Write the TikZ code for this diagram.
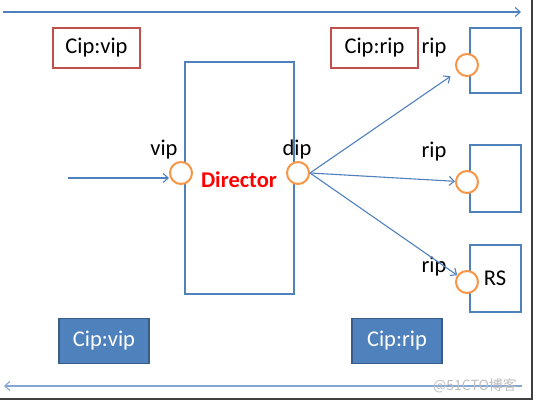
\documentclass[tikz,border=0pt]{standalone}
\usepackage{fontspec}
\setmainfont{Carlito}
\newfontfamily\cjkfont{Noto Sans CJK SC}
\usetikzlibrary{arrows.meta}
\definecolor{lblue}{HTML}{4F81BD}
\definecolor{dblue}{HTML}{385D8A}
\definecolor{lred}{HTML}{C0504D}
\definecolor{lorange}{HTML}{F79646}
\tikzset{
  lbl/.style={font=\fontsize{22.5}{24}\selectfont, inner sep=0pt},
  redbox/.style={draw=lred, line width=2.3pt, minimum height=40pt, font=\fontsize{22.5}{24}\selectfont, inner sep=0pt},
  bluebox/.style={draw=dblue, fill=lblue, line width=1.5pt, minimum height=45pt, minimum width=90pt, text=white, font=\fontsize{22.5}{24}\selectfont, inner sep=0pt},
  framebox/.style={draw=lblue, line width=2.4pt},
  port/.style={circle, draw=lorange, fill=white, line width=2pt, minimum size=22pt, inner sep=0pt},
  conn/.style={draw=lblue, line width=1.1pt, -{Straight Barb[length=5pt,width=9pt]}},
}
\begin{document}
\begin{tikzpicture}[x=1pt,y=-1pt]
\useasboundingbox (0,0) rectangle (536,403);
\fill[white] (0,0) rectangle (536,403);
% page shadow
\draw[black!75, line width=2pt] (532,0) -- (532,399) -- (0,399);
% top and bottom arrows
\coordinate (ts) at (3,12); \coordinate (te) at (521,12);
\draw[conn] (ts) -- (te);
\coordinate (bs) at (522,386); \coordinate (be) at (4,386);
\draw[conn, draw=lblue!70] (bs) -- (be);
% red boxes
\node[redbox, minimum width=87pt] (cvip) at (96.5,48) {Cip:vip};
\node[redbox, minimum width=87pt] (crip) at (374.5,48) {Cip:rip};
% director
\node[framebox, minimum width=109pt, minimum height=232pt, inner sep=0pt] (dir) at (239.5,178) {};
\node[lbl, text=red, font=\fontsize{22.5}{24}\selectfont\bfseries] (dirt) at (239,180) {Director};
\node[port] (vipc) at (181,173) {};
\node[port] (dipc) at (298,173) {};
\node[lbl] (vipt) at (164,150) {vip};
\node[lbl] (dipt) at (297,150) {dip};
\coordinate (in) at (68,178);
\draw[conn] (in) -- (vipc.west |- in);
% real servers
\node[framebox, minimum width=51pt, minimum height=65pt] (rs1) at (495.5,60.5) {};
\node[framebox, minimum width=51pt, minimum height=67pt] (rs2) at (495.5,178.5) {};
\node[framebox, minimum width=51pt, minimum height=67pt, lbl] (rs3) at (495.5,278.5) {};
\node[lbl] (rst) at (495,278) {RS};
\node[port] (p1) at (467,65) {};
\node[port] (p2) at (467,182) {};
\node[port] (p3) at (467,282) {};
\node[lbl] (r1) at (434,48) {rip};
\node[lbl] (r2) at (434,152) {rip};
\node[lbl] (r3) at (434,267) {rip};
\draw[conn, shorten >=8pt] (dipc.east) -- (p1);
\draw[conn] (dipc.east) -- (p2);
\draw[conn] (dipc.east) -- (p3);
% blue boxes
\node[bluebox] (bvip) at (104,341) {Cip:vip};
\node[bluebox] (brip) at (397,341) {Cip:rip};
% watermark
\node[text=black!25, font=\cjkfont\fontsize{14}{16}\selectfont, inner sep=0pt] (wm) at (475,386) {@51CTO博客};
\end{tikzpicture}
\end{document}
